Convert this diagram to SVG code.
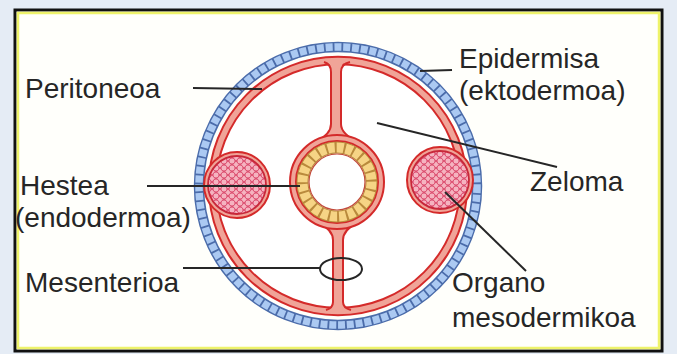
<svg xmlns="http://www.w3.org/2000/svg" width="677" height="354" viewBox="0 0 677 354">
  <defs>
    <style>
      .lbl{font-family:"Liberation Sans",Arial,sans-serif;font-size:28px;fill:#262626}
      .lead{stroke:#262626;stroke-width:2;fill:none}
      .rl{fill:none;stroke:#d42a2a;stroke-width:2}
      .band{fill:none;stroke:#f0a498}
    </style>
    <!-- packed mesodermal cells -->
    <pattern id="cells" width="8" height="7" patternUnits="userSpaceOnUse">
      <rect width="8" height="7" fill="#e2607a"/>
      <circle cx="4" cy="3.5" r="3" fill="#f5b3c0" stroke="#d8456a" stroke-width="0.8"/>
      <circle cx="0" cy="0" r="3" fill="#f5b3c0" stroke="#d8456a" stroke-width="0.8"/>
      <circle cx="8" cy="0" r="3" fill="#f5b3c0" stroke="#d8456a" stroke-width="0.8"/>
      <circle cx="0" cy="7" r="3" fill="#f5b3c0" stroke="#d8456a" stroke-width="0.8"/>
      <circle cx="8" cy="7" r="3" fill="#f5b3c0" stroke="#d8456a" stroke-width="0.8"/>
    </pattern>
  </defs>

  <!-- page and frame -->
  <rect width="677" height="354" fill="#e5ecf5"/>
  <g id="frame">
    <rect x="15" y="10" width="647" height="341" fill="#fffffb" stroke="#111" stroke-width="3"/>
    <rect x="18" y="13" width="641" height="335" fill="none" stroke="#eef36a" stroke-width="2.5"/>
  </g>

  <!-- body wall: epidermis and parietal peritoneum -->
  <g id="body-wall">
    <circle cx="338" cy="186" r="122" fill="#ffffff"/>
    <circle cx="338" cy="186" r="139" fill="none" stroke="#4b6caa" stroke-width="10.5"/>
    <circle cx="338" cy="186" r="139" fill="none" stroke="#abc9f2" stroke-width="7.5" stroke-dasharray="7 1.8"/>
    <circle cx="338" cy="186" r="125.5" class="band" stroke-width="7"/>
    <circle cx="338" cy="186" r="129.2" class="rl"/>
    <circle cx="338" cy="186" r="121.8" class="rl"/>
  </g>

  <!-- dorsal and ventral mesentery -->
  <g id="mesentery">
    <path d="M324,60 Q331,62 331,72 L331,124 Q331,134 316,142 L358,142 Q341,134 341,124 L341,72 Q341,62 348,60 Z" fill="#f0a498"/>
    <path d="M324,62 Q331,64 331,72 L331,124 Q331,134 316,142 M350,62 Q341,64 341,72 L341,124 Q341,134 358,142" class="rl"/>
    <path d="M318,222 Q333,230 333,240 L333,302 Q333,309 326,311 L351,311 Q343,309 343,302 L343,240 Q343,230 358,222 Z" fill="#f0a498"/>
    <path d="M318,222 Q333,230 333,240 L333,302 Q333,308 326,310 M358,222 Q343,230 343,240 L343,302 Q343,308 351,310" class="rl"/>
  </g>

  <!-- gut: endoderm ring around the lumen -->
  <g id="gut">
    <circle cx="337" cy="182" r="44" class="band" stroke-width="6"/>
    <circle cx="337" cy="182" r="47" class="rl"/>
    <circle cx="337" cy="182" r="41" class="rl"/>
    <circle cx="337" cy="182" r="34.5" fill="none" stroke="#b98a3c" stroke-width="12"/>
    <circle cx="337" cy="182" r="34.5" fill="none" stroke="#f6d485" stroke-width="10" stroke-dasharray="7 2"/>
    <circle cx="337" cy="182" r="28" fill="#ffffff" stroke="#c24a3a" stroke-width="1.2"/>
  </g>

  <!-- mesodermal organs wrapped in peritoneum -->
  <g id="organ-left">
    <circle cx="237" cy="185" r="33" fill="#f0a498" stroke="#d42a2a" stroke-width="2"/>
    <circle cx="237" cy="185" r="29" fill="url(#cells)" stroke="#c8283a" stroke-width="1.8"/>
  </g>
  <g id="organ-right">
    <circle cx="440" cy="180" r="33" fill="#f0a498" stroke="#d42a2a" stroke-width="2"/>
    <circle cx="440" cy="180" r="29" fill="url(#cells)" stroke="#c8283a" stroke-width="1.8"/>
  </g>

  <!-- leader lines -->
  <g id="connectors">
    <line class="lead" x1="193" y1="88" x2="262" y2="89"/>
    <line class="lead" x1="420" y1="71" x2="452" y2="70"/>
    <line class="lead" x1="377" y1="123" x2="557" y2="167"/>
    <line class="lead" x1="147" y1="186" x2="300" y2="186"/>
    <line class="lead" x1="183" y1="268" x2="320" y2="268"/>
    <ellipse class="lead" cx="341" cy="269" rx="21" ry="11"/>
    <line class="lead" x1="445" y1="192" x2="526" y2="271"/>
  </g>

  <!-- labels -->
  <g id="label-peritoneoa"><text class="lbl" x="25" y="98">Peritoneoa</text></g>
  <g id="label-epidermisa">
    <text class="lbl" x="459" y="68">Epidermisa</text>
    <text class="lbl" x="459" y="100">(ektodermoa)</text>
  </g>
  <g id="label-zeloma"><text class="lbl" x="530" y="191">Zeloma</text></g>
  <g id="label-hestea">
    <text class="lbl" x="20" y="195">Hestea</text>
    <text class="lbl" x="15" y="227">(endodermoa)</text>
  </g>
  <g id="label-mesenterioa"><text class="lbl" x="25" y="292">Mesenterioa</text></g>
  <g id="label-organo">
    <text class="lbl" x="452" y="292">Organo</text>
    <text class="lbl" x="452" y="327">mesodermikoa</text>
  </g>
</svg>
